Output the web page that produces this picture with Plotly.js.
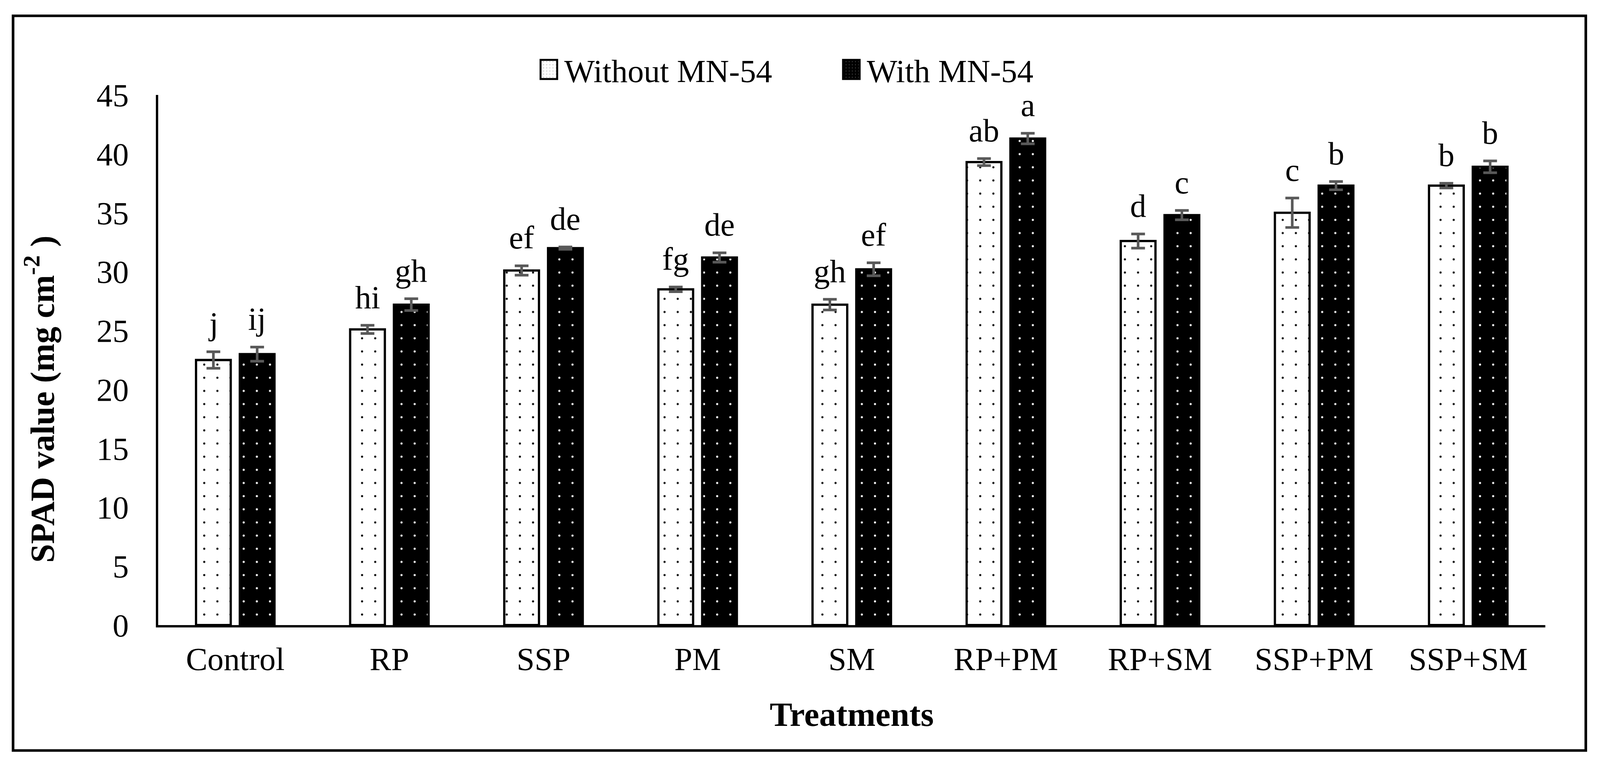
<!DOCTYPE html>
<html>
<head>
<meta charset="utf-8">
<script src="https://cdn.plot.ly/plotly-3.0.1.min.js"></script>
<style>html,body{margin:0;padding:0;background:#ffffff;overflow:hidden;}</style>
</head>
<body>
<div id="chart"></div>
<script>
// ---- data ----
const treatments = ['Control', 'RP', 'SSP', 'PM', 'SM', 'RP+PM', 'RP+SM', 'SSP+PM', 'SSP+SM'];
const seriesNames = ['Without MN-54', 'With MN-54'];
const withoutMN = [22.5, 25.1, 30.1, 28.5, 27.2, 39.3, 32.6, 35.0, 37.3];
const withMN = [23.0, 27.2, 32.0, 31.2, 30.2, 41.3, 34.8, 37.3, 38.9];
const withoutErr = [0.7, 0.35, 0.4, 0.2, 0.45, 0.3, 0.6, 1.25, 0.2];
const withErr = [0.6, 0.5, 0.1, 0.4, 0.55, 0.45, 0.4, 0.35, 0.5];
const withoutLetters = ['j', 'hi', 'ef', 'fg', 'gh', 'ab', 'd', 'c', 'b'];
const withLetters = ['ij', 'gh', 'de', 'de', 'ef', 'a', 'c', 'b', 'b'];
const yTicks = [0, 5, 10, 15, 20, 25, 30, 35, 40, 45];

// ---- layout geometry (reference pixels, scaled to the real viewport) ----
const REFW = 4426, REFH = 1953;
const W = window.innerWidth || REFW, H = window.innerHeight || REFH;
const sx = W / REFW, sy = H / REFH, sf = Math.sqrt(sx * sy);
const X = p => p * sx, Y = p => p * sy, F = p => p * sf;
const L = X(438), R = X(4275), T = Y(243), B = Y(1600);
const FONT = '"Liberation Serif", "Times New Roman", Times, serif';
const BARGAP = 0.432, GROUPGAP = 0.207;
const barOffset = (1 - BARGAP) / 4;
const px2x = p => (X(p) - L) / (R - L);
const px2y = p => (B - Y(p)) / (B - T);

document.getElementById('chart').style.width = W + 'px';
document.getElementById('chart').style.height = H + 'px';

const errStyle = {type: 'data', visible: true, color: '#595959', thickness: F(7), width: X(19)};

const traces = [
  {
    type: 'bar', name: seriesNames[0], x: treatments, y: withoutMN,
    error_y: Object.assign({array: withoutErr}, errStyle),
    marker: {color: '#ffffff', line: {color: '#000000', width: F(6)},
      pattern: {shape: '.', fgcolor: '#000000', bgcolor: '#ffffff', size: F(35), solidity: 0.02, fillmode: 'replace'}}
  },
  {
    type: 'bar', name: seriesNames[1], x: treatments, y: withMN,
    error_y: Object.assign({array: withErr}, errStyle),
    marker: {color: '#000000', line: {color: '#000000', width: F(6)},
      pattern: {shape: '.', fgcolor: '#ffffff', bgcolor: '#000000', size: F(35), solidity: 0.02, fillmode: 'replace'}}
  }
];

const annotations = [];
treatments.forEach((t, i) => {
  annotations.push({x: i - barOffset, y: withoutMN[i] + withoutErr[i], xref: 'x', yref: 'y',
    text: withoutLetters[i], showarrow: false, xanchor: 'center', yanchor: 'bottom', yshift: Y(24),
    font: {family: FONT, size: F(86), color: '#000000'}});
  annotations.push({x: i + barOffset, y: withMN[i] + withErr[i], xref: 'x', yref: 'y',
    text: withLetters[i], showarrow: false, xanchor: 'center', yanchor: 'bottom', yshift: Y(24),
    font: {family: FONT, size: F(86), color: '#000000'}});
});
// y-axis title, placed where the reference has it (slightly below the plot centre)
annotations.push({xref: 'paper', yref: 'paper', x: px2x(110), y: px2y(1022), xanchor: 'center', yanchor: 'middle',
  textangle: -90, showarrow: false, text: '<b>SPAD value (mg cm<sup>-2</sup> )</b>',
  font: {family: FONT, size: F(90), color: '#000000'}});

const layout = {
  width: W, height: H, autosize: false,
  margin: {l: L, r: W - R, t: T, b: H - B, pad: 0},
  paper_bgcolor: '#ffffff', plot_bgcolor: '#ffffff',
  font: {family: FONT, size: F(86), color: '#000000'},
  barmode: 'group', bargap: BARGAP, bargroupgap: GROUPGAP,
  showlegend: true,
  legend: {orientation: 'h', x: px2x(1490), xanchor: 'left', y: px2y(178), yanchor: 'middle',
    font: {family: FONT, size: F(86), color: '#000000'}, bgcolor: 'rgba(0,0,0,0)',
    itemwidth: 56, entrywidth: X(760), entrywidthmode: 'pixels', traceorder: 'normal'},
  xaxis: {type: 'category', showline: true, linecolor: '#000000', linewidth: F(6), ticks: '',
    showgrid: false, zeroline: false, tickfont: {family: FONT, size: F(86), color: '#000000'},
    ticklabelstandoff: Math.round(Y(10)),
    title: {text: '<b>Treatments</b>', font: {family: FONT, size: F(90), color: '#000000'}, standoff: Y(67)}},
  yaxis: {range: [0, 45], tickvals: yTicks, showline: true, linecolor: '#000000', linewidth: F(6), ticks: '',
    showgrid: false, zeroline: false, tickfont: {family: FONT, size: F(86), color: '#000000'},
    ticklabelstandoff: Math.max(0, Math.round(X(77) - 18))},
  annotations: annotations,
  shapes: [{type: 'rect', xref: 'paper', yref: 'paper', x0: px2x(36.5), x1: px2x(4387), y0: px2y(1921), y1: px2y(40.5),
    line: {color: '#000000', width: F(7)}, fillcolor: 'rgba(0,0,0,0)', layer: 'above'}]
};

Plotly.newPlot('chart', traces, layout, {displayModeBar: false, staticPlot: true}).then(gd => {
  const hx = v => (v * sx).toFixed(2), hy = v => (v * sy).toFixed(2);
  gd.querySelectorAll('.legend .legendpoints path').forEach(p => {
    p.setAttribute('d', 'M' + hx(16) + ',' + hy(24.5) + 'H' + hx(-30) + 'V' + hy(-24.5) + 'H' + hx(16) + 'Z');
  });
});
</script>
</body>
</html>
